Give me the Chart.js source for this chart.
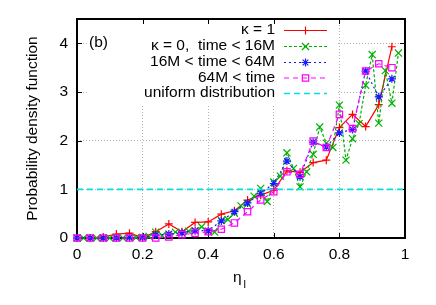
<!DOCTYPE html>
<html>
<head>
<meta charset="utf-8">
<script src="https://cdn.jsdelivr.net/npm/chart.js@4.4.1/dist/chart.umd.min.js"></script>
<style>
  html, body { margin: 0; padding: 0; background: #fff; }
</style>
</head>
<body>
<canvas id="myChart" width="436" height="305"></canvas>
<script>
// bins of width 0.04 (kappa = 1 and the two later time windows)
var binX = [0, 0.04, 0.08, 0.12, 0.16, 0.20, 0.24, 0.28, 0.32, 0.36, 0.40, 0.44, 0.48,
            0.52, 0.56, 0.60, 0.64, 0.68, 0.72, 0.76, 0.80, 0.84, 0.88, 0.92, 0.96];
// the early window is binned finer (0.02)
var fineX = [0, 0.02, 0.04, 0.06, 0.08, 0.10, 0.12, 0.14, 0.16, 0.18, 0.20, 0.22, 0.24,
             0.26, 0.28, 0.30, 0.32, 0.34, 0.36, 0.38, 0.40, 0.42, 0.44, 0.46, 0.48, 0.50,
             0.52, 0.54, 0.56, 0.58, 0.60, 0.62, 0.64, 0.66, 0.68, 0.70, 0.72, 0.74, 0.76,
             0.78, 0.80, 0.82, 0.84, 0.86, 0.88, 0.90, 0.92, 0.94, 0.96, 0.98];

var kappa1 = [0, 0, 0.02, 0.08, 0.10, 0.01, 0.13, 0.29, 0.13, 0.32, 0.33, 0.49, 0.56,
              0.78, 0.88, 0.98, 1.38, 1.35, 1.55, 1.60, 2.27, 2.54, 2.29, 2.74, 3.93];
var early = [0, 0, 0, 0, 0, 0, 0.01, 0, 0.01, 0.01, 0.01, 0.03, 0.12,
             0.05, 0.08, 0.12, 0.10, 0.14, 0.15, 0.23, 0.14, 0.12, 0.36, 0.38, 0.51, 0.66,
             0.70, 0.86, 1.02, 0.75, 1.15, 1.27, 1.75, 1.43, 1.05, 1.36, 1.72, 2.28, 1.95,
             1.86, 2.73, 1.60, 2.04, 2.35, 3.14, 3.77, 2.36, 3.44, 2.77, 3.80];
var middle = [0, 0, 0, 0, 0.01, 0.01, 0.06, 0.08, 0.11, 0.15, 0.15, 0.35, 0.54,
              0.72, 0.92, 1.12, 1.58, 1.26, 1.97, 1.87, 2.16, 2.23, 3.43, 2.90, 3.27];
var late = [0, 0, 0, 0, 0, 0, 0, 0.02, 0.07, 0.10, 0.13, 0.18, 0.31,
            0.54, 0.78, 0.95, 1.36, 1.31, 1.99, 1.86, 2.54, 2.25, 3.43, 3.58, 3.50];
var uniformX = [0, 1];
var uniformY = [1, 1];

var seriesNames = ["\u03ba = 1", "\u03ba = 0,  time < 16M", "16M < time < 64M", "64M < time", "uniform distribution"];
var xTicks = [0, 0.2, 0.4, 0.6, 0.8, 1];
var yTicks = [0, 1, 2, 3, 4];

var FONT = "'Liberation Sans', Arial, Helvetica, sans-serif";
var FS = 15.5;

function pts(xs, ys) {
    return xs.map(function (x, i) { return { x: x, y: ys[i] }; });
}

var styles = [
    { color: "#ff0000", dash: [], marker: "cross", r: 4, w: 1.2 },
    { color: "#00b000", dash: [3, 2], marker: "crossRot", r: 5, w: 1.2 },
    { color: "#1a1aff", dash: [2, 3], marker: "star", r: 4, w: 1.2 },
    { color: "#ff00ff", dash: [5, 4], marker: "rect", r: 4.5, w: 1.2 },
    { color: "#00e2e2", dash: [6, 4], marker: false, r: 0, w: 1.6 }
];

var seriesData = [pts(binX, kappa1), pts(fineX, early), pts(binX, middle), pts(binX, late), pts(uniformX, uniformY)];

var datasets = seriesData.map(function (d, i) {
    var s = styles[i];
    return {
        label: seriesNames[i],
        data: d,
        borderColor: s.color,
        backgroundColor: s.color,
        borderWidth: s.w,
        borderDash: s.dash,
        pointStyle: s.marker,
        pointRadius: s.r,
        pointBorderColor: s.color,
        pointBackgroundColor: "rgba(0,0,0,0)",
        pointBorderWidth: 1.2,
        fill: false,
        tension: 0,
        clip: false,
        order: 5 - i
    };
});

// small marker drawing for the key
function drawMarker(ctx, kind, x, y, r) {
    var d = r * Math.SQRT1_2;
    ctx.beginPath();
    if (kind === "cross" || kind === "star") {
        ctx.moveTo(x - r, y); ctx.lineTo(x + r, y);
        ctx.moveTo(x, y - r); ctx.lineTo(x, y + r);
    }
    if (kind === "crossRot" || kind === "star") {
        ctx.moveTo(x - d, y - d); ctx.lineTo(x + d, y + d);
        ctx.moveTo(x - d, y + d); ctx.lineTo(x + d, y - d);
    }
    if (kind === "rect") {
        ctx.rect(x - d, y - d, 2 * d, 2 * d);
    }
    ctx.stroke();
}

var framePlugin = {
    id: "frame",
    beforeDatasetsDraw: function (chart) {
        var ctx = chart.ctx, a = chart.chartArea;
        var xs = chart.scales.x, ys = chart.scales.y;
        ctx.save();
        // opaque key area hides the grid behind it
        ctx.fillStyle = "#fff";
        ctx.fillRect(88, a.top + 1, 248, 84);
        // inward ticks on all four sides
        ctx.strokeStyle = "#000";
        ctx.lineWidth = 1;
        ctx.beginPath();
        xTicks.forEach(function (v) {
            var px = Math.round(xs.getPixelForValue(v)) + 0.5;
            ctx.moveTo(px, a.bottom); ctx.lineTo(px, a.bottom - 5);
            ctx.moveTo(px, a.top); ctx.lineTo(px, a.top + 5);
        });
        yTicks.forEach(function (v) {
            var py = Math.round(ys.getPixelForValue(v)) + 0.5;
            ctx.moveTo(a.left, py); ctx.lineTo(a.left + 5, py);
            ctx.moveTo(a.right, py); ctx.lineTo(a.right - 5, py);
        });
        ctx.stroke();
        ctx.lineWidth = 2;
        ctx.strokeRect(a.left, a.top, a.right - a.left, a.bottom - a.top);
        ctx.restore();
    },
    afterDatasetsDraw: function (chart) {
        var ctx = chart.ctx;
        ctx.save();
        ctx.fillStyle = "#000";
        ctx.font = FS + "px " + FONT;
        ctx.textBaseline = "middle";
        // key
        var rowY = [30, 46, 62, 77.5, 93];
        ctx.textAlign = "right";
        seriesNames.forEach(function (name, i) {
            var s = styles[i], y = rowY[i];
            ctx.fillStyle = "#000";
            ctx.fillText(name, 275, y);
            ctx.strokeStyle = s.color;
            ctx.lineWidth = s.w;
            ctx.setLineDash(s.dash);
            ctx.beginPath();
            ctx.moveTo(284, y + 0.5); ctx.lineTo(327, y + 0.5);
            ctx.stroke();
            ctx.setLineDash([]);
            ctx.lineWidth = 1.2;
            if (s.marker) drawMarker(ctx, s.marker, 305.5, y + 0.5, s.r);
        });
        // panel label
        ctx.textAlign = "left";
        ctx.fillStyle = "#000";
        ctx.fillText("(b)", 89, 43);
        // x axis title: eta with subscript l
        ctx.textBaseline = "alphabetic";
        ctx.fillText("\u03b7", 233, 282);
        ctx.font = "11px " + FONT;
        ctx.fillText("l", 243.5, 288);
        ctx.restore();
    }
};

Chart.defaults.font.family = FONT;
Chart.defaults.font.size = FS;
Chart.defaults.color = "#000";

var ctx = document.getElementById("myChart").getContext("2d");
var myChart = new Chart(ctx, {
    type: "line",
    data: { datasets: datasets },
    options: {
        responsive: false,
        animation: false,
        layout: { padding: { left: 0, right: 31, top: 19, bottom: 0 } },
        plugins: { legend: { display: false }, tooltip: { enabled: false } },
        scales: {
            x: {
                type: "linear",
                min: 0,
                max: 1,
                afterBuildTicks: function (s) { s.ticks = xTicks.map(function (v) { return { value: v }; }); },
                afterFit: function (s) { s.height = 67; },
                grid: { color: "#b4b4b4", lineWidth: 1, drawTicks: false },
                border: { display: false, dash: [1, 2] },
                ticks: {
                    padding: 7, maxRotation: 0, color: "#000", font: { size: FS },
                    callback: function (v) { return String(v); }
                }
            },
            y: {
                type: "linear",
                min: 0,
                max: 4.5,
                afterBuildTicks: function (s) { s.ticks = yTicks.map(function (v) { return { value: v }; }); },
                afterFit: function (s) { s.width = 77; },
                grid: { color: "#b4b4b4", lineWidth: 1, drawTicks: false },
                border: { display: false, dash: [1, 2] },
                ticks: {
                    padding: 9, color: "#000", font: { size: FS },
                    callback: function (v) { return String(v); }
                },
                title: {
                    display: true,
                    text: "Probability density function",
                    color: "#000",
                    font: { size: FS },
                    padding: { top: 23, bottom: 0 }
                }
            }
        }
    },
    plugins: [framePlugin]
});
</script>
</body>
</html>
